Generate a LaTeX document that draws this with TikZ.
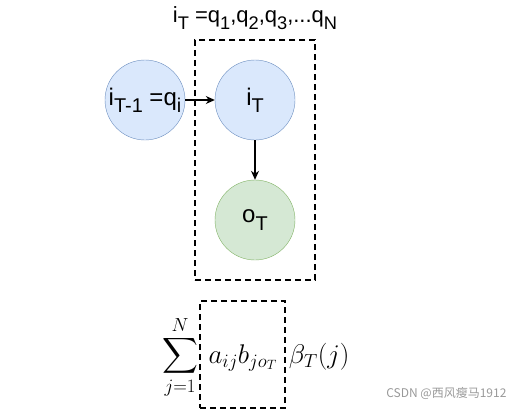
\RequirePackage{fix-cm}
\documentclass[tikz,border=0pt]{standalone}
\usepackage{fontspec}
\usepackage{amsmath}
\usetikzlibrary{positioning,arrows.meta}
\newfontfamily\labelfont{Liberation Sans}
\newfontfamily\cjkfont{Noto Sans CJK SC}
\definecolor{bluefill}{HTML}{DAE8FC}
\definecolor{blueline}{HTML}{6C8EBF}
\definecolor{greenfill}{HTML}{D5E8D4}
\definecolor{greenline}{HTML}{82B366}
\newcommand\lsub[1]{\raisebox{-0.3em}{\scalebox{0.83}{#1}}}

\begin{document}
\begin{tikzpicture}[x=1pt, y=-1pt, node distance=110pt, on grid,
    font=\labelfont\fontsize{24}{28}\selectfont,
    hstate/.style={circle, draw=blueline, fill=bluefill, minimum size=80pt, inner sep=0pt},
    ostate/.style={circle, draw=greenline, fill=greenfill, minimum size=80pt, inner sep=0pt},
    dashbox/.style={draw, line width=1.5pt, dash pattern=on 6pt off 4pt, inner sep=0pt},
    mathtext/.style={inner sep=0pt, font=\fontsize{27}{32}\selectfont},
    >={Stealth[length=9pt, width=8pt]}]
    \useasboundingbox (0,0) rectangle (511,412);
    \node[font=\labelfont\fontsize{22}{26}\selectfont] (states) at (255,18) {i\lsub{T} =q\lsub{1},q\lsub{2},q\lsub{3},...q\lsub{N}};%
    \node[dashbox, minimum width=120pt, minimum height=240pt] (frame) at (255,160) {};%
    \node[hstate] (prev) at (145,100) {i\lsub{T-1} =q\lsub{i}};%
    \node[hstate, right=of prev] (cur) {i\lsub{T}};%
    \node[ostate, below=120pt of cur] (obs) {o\lsub{T}};%
    \path[->, line width=1.2pt] (prev) edge (cur)%
    (cur) edge (obs);%
    % backward formula
    \node[dashbox, minimum width=85pt, minimum height=107pt] (ab) at (242.5,354.5) {};%
    \coordinate (base) at (243,363);%
    \node[anchor=base, mathtext] (prod) at (base) {$a_{ij}b_{jo_T}$};%
    \node[anchor=base east, mathtext, xshift=-1pt] (sum) at (base -| ab.west) {$\displaystyle\sum_{j=1}^{N}$};%
    \node[anchor=base west, mathtext, xshift=3pt] (beta) at (base -| ab.east) {$\beta_T(j)$};%
    \node[anchor=east, text=black!40, font=\cjkfont\fontsize{12}{14}\selectfont] (mark) at (510,393) {CSDN @西风瘦马1912};%
\end{tikzpicture}
\end{document}
